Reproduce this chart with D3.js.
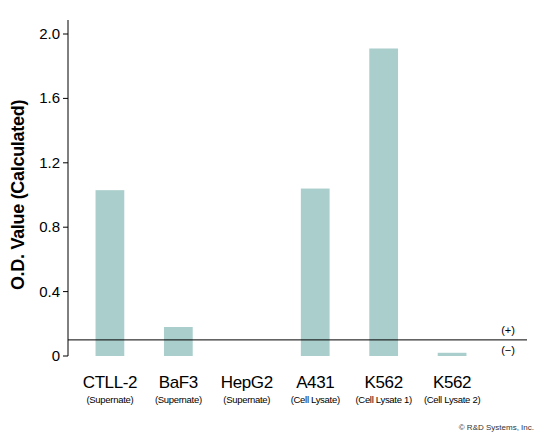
<!DOCTYPE html>
<html><head><meta charset="utf-8">
<script src="https://cdn.jsdelivr.net/npm/d3@7"></script>
<style>body{margin:0;background:#fff}text{font-family:"Liberation Sans Narrow","Liberation Sans",Arial,sans-serif;font-stretch:condensed}</style>
</head><body><svg width="540" height="435"></svg>
<script>
const categories=["CTLL-2","BaF3","HepG2","A431","K562","K562"];
const subLabels=["(Supernate)","(Supernate)","(Supernate)","(Cell Lysate)","(Cell Lysate 1)","(Cell Lysate 2)"];
const values=[1.03,0.18,0,1.04,1.91,0.02];
const yTicks=[0,0.4,0.8,1.2,1.6,2.0];
const threshold=0.1;
const svg=d3.select("svg");
const x=d3.scaleBand().domain(d3.range(categories.length)).range([75,487]).paddingInner(0.58).paddingOuter(0.3);
const y=d3.scaleLinear().domain([0,2]).range([356,34]);
const xLeft=68;
svg.append("line").attr("x1",xLeft).attr("x2",xLeft).attr("y1",y(2.0)-14).attr("y2",y(0)).attr("stroke","#000");
yTicks.forEach(t=>{
  svg.append("line").attr("x1",xLeft-5).attr("x2",xLeft).attr("y1",y(t)).attr("y2",y(t)).attr("stroke","#000");
  svg.append("text").attr("x",xLeft-8).attr("y",y(t)+5).attr("text-anchor","end").attr("font-size",15).text(t===0?"0":t.toFixed(1));
});
svg.append("text").attr("transform","translate(24,195) rotate(-90)").attr("text-anchor","middle").attr("font-size",18).attr("font-weight","bold").attr("letter-spacing",-0.3).text("O.D. Value (Calculated)");
svg.selectAll("rect.bar").data(values).join("rect").attr("class","bar")
 .attr("x",(d,i)=>x(i)).attr("width",x.bandwidth()).attr("y",d=>y(d)).attr("height",d=>y(0)-y(d)).attr("fill","#a9cecc");
svg.append("line").attr("x1",xLeft).attr("x2",527).attr("y1",y(threshold)).attr("y2",y(threshold)).attr("stroke","#000");
svg.append("text").attr("x",508).attr("y",y(threshold)-6).attr("text-anchor","middle").attr("font-size",11).text("(+)");
svg.append("text").attr("x",508).attr("y",y(threshold)+14).attr("text-anchor","middle").attr("font-size",11).text("(\u2212)");
categories.forEach((c,i)=>{
  const cx=x(i)+x.bandwidth()/2;
  svg.append("text").attr("x",cx).attr("y",388).attr("text-anchor","middle").attr("font-size",17).attr("letter-spacing",-0.4).text(c);
  svg.append("text").attr("x",cx).attr("y",403).attr("text-anchor","middle").attr("font-size",9.5).attr("letter-spacing",-0.3).text(subLabels[i]);
});
svg.append("text").attr("x",534).attr("y",430).attr("text-anchor","end").attr("font-size",8).attr("fill","#333").text("© R&D Systems, Inc.");
</script></body></html>
